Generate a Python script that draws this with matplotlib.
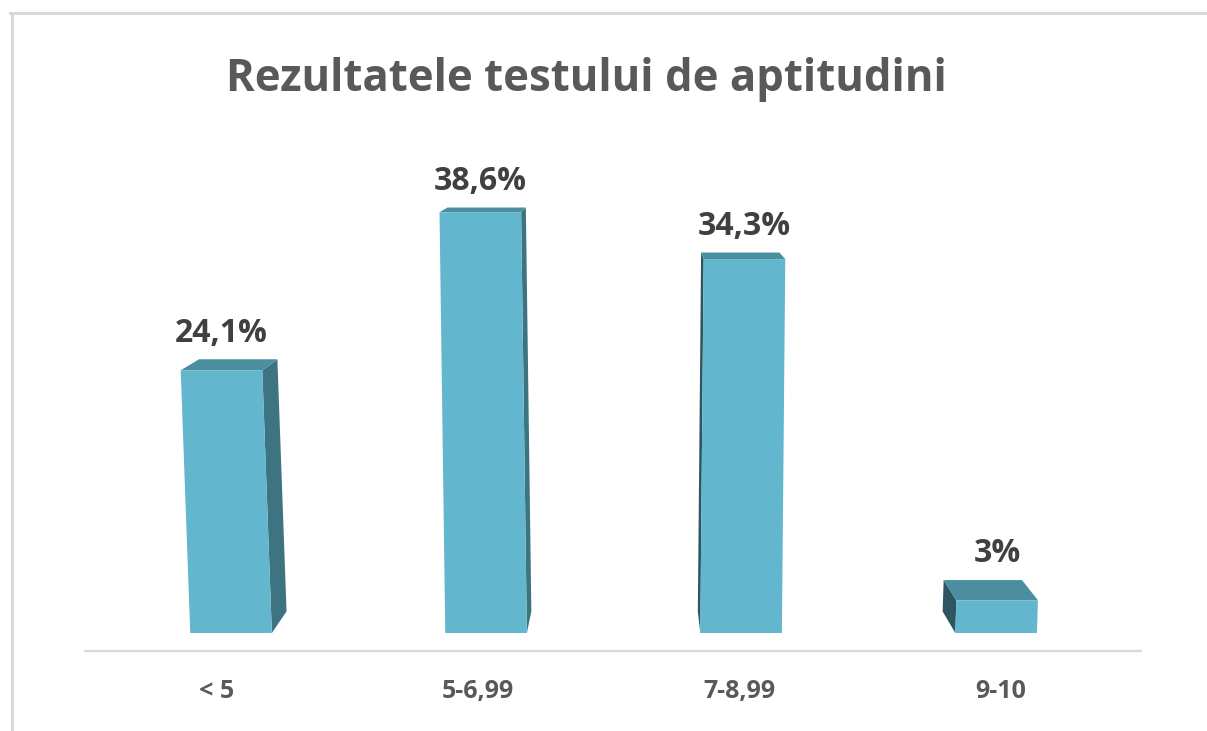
import matplotlib
matplotlib.use('Agg')
from matplotlib import pyplot as plt
from matplotlib.patches import Polygon
from matplotlib.lines import Line2D

categories = ['< 5', '5-6,99', '7-8,99', '9-10']
percentages = [24.1, 38.6, 34.3, 3.0]
valueLabels = ['24,1%', '38,6%', '34,3%', '3%']
title = 'Rezultatele testului de aptitudini'

frontColor = '#62B6CE'
topColor = '#4A8EA0'
rightSideColor = '#3E7482'
leftSideColor = '#2C5661'
valueColor = '#404040'
labelColor = '#595959'
lineColor = '#D9D9D9'

plt.rcParams['font.family'] = ['Open Sans', 'DejaVu Sans']

barWidth = 0.32
depth = 0.04  # how far the back face moves towards the vanishing point
vanishX, vanishY = 1.60, 49.4
lean = 9.7e-4  # small perspective lean of the front faces

def toBack(p):
    return (p[0] + depth * (vanishX - p[0]), p[1] + depth * (vanishY - p[1]))

fig = plt.figure(figsize=(12.07, 7.31), dpi=100)
ax = fig.add_axes([0, 0, 1, 1])
ax.set_xlim(-0.906, 3.827)
ax.set_ylim(-8.99, 58.07)
ax.axis('off')

for i, value in enumerate(percentages):
    shift = lean * (i - vanishX) * value
    bl = (i - barWidth / 2, 0)
    br = (i + barWidth / 2, 0)
    tl = (i - barWidth / 2 + shift, value)
    tr = (i + barWidth / 2 + shift, value)

    if br[0] < vanishX:  # right side faces the viewer
        ax.add_patch(Polygon([tr, br, toBack(br), toBack(tr)], closed=True,
                             facecolor=rightSideColor, edgecolor='none', zorder=2))
    if bl[0] > vanishX:  # left side faces the viewer
        ax.add_patch(Polygon([tl, bl, toBack(bl), toBack(tl)], closed=True,
                             facecolor=leftSideColor, edgecolor='none', zorder=2))
    ax.add_patch(Polygon([tl, tr, toBack(tr), toBack(tl)], closed=True,
                         facecolor=topColor, edgecolor='none', zorder=3))
    ax.add_patch(Polygon([bl, br, tr, tl], closed=True,
                         facecolor=frontColor, edgecolor='none', zorder=4))

    backTop = toBack(tl)[1]
    ax.annotate(valueLabels[i], (i + shift, backTop), xytext=(0, 7),
                textcoords='offset points', ha='center', va='bottom',
                fontsize=23, fontweight='bold', color=valueColor, zorder=5)

    ax.text(i * 1.024 - 0.055, -5.96, categories[i], ha='center', va='baseline',
            fontsize=18, fontweight='bold', color=labelColor)

# baseline
ax.plot([-0.573, 3.569], [-1.65, -1.65], color=lineColor, lw=1.6, zorder=1)

# outer frame (left and top edges only are visible)
fig.add_artist(Line2D([11.5 / 1207, 11.5 / 1207], [0, 1 - 13 / 731],
                      color=lineColor, lw=2.2))
fig.add_artist(Line2D([10 / 1207, 1], [1 - 13 / 731, 1 - 13 / 731],
                      color=lineColor, lw=2.2))

fig.text(586 / 1207, 1 - 80 / 731, title, ha='center', va='center',
         fontsize=31.5, fontweight='bold', color='#595959')

plt.savefig('out.png', dpi=100)
